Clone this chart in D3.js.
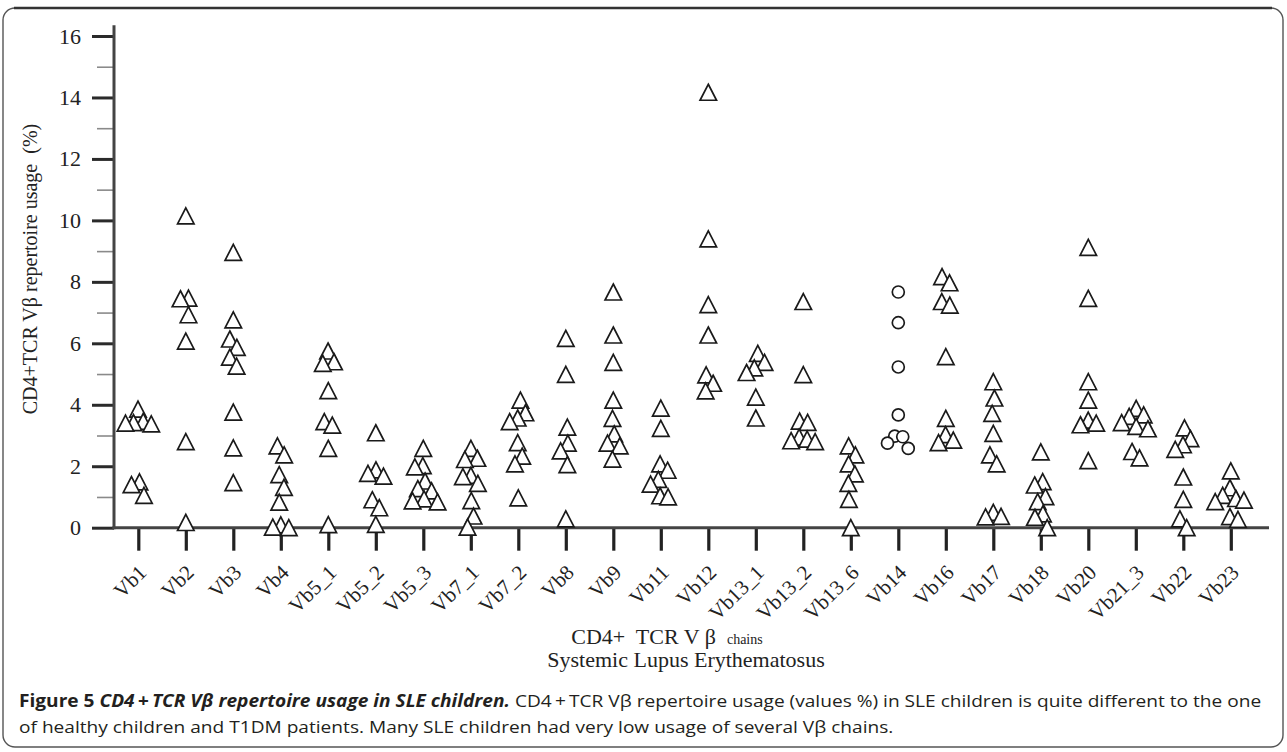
<!DOCTYPE html>
<html><head><meta charset="utf-8">
<script src="https://cdn.jsdelivr.net/npm/d3@7"></script>
<style>body{margin:0;background:#fff}svg{display:block}</style>
</head><body>
<svg id="chart" width="1287" height="752"></svg>
<script>
// ---------- data ----------
const categories = ["Vb1","Vb2","Vb3","Vb4","Vb5_1","Vb5_2","Vb5_3","Vb7_1","Vb7_2","Vb8","Vb9","Vb11",
  "Vb12","Vb13_1","Vb13_2","Vb13_6","Vb14","Vb16","Vb17","Vb18","Vb20","Vb21_3","Vb22","Vb23"];
const vb1    = [3.86, 3.46, 3.42, 3.40, 3.38, 1.49, 1.40, 1.05];
const vb2    = [10.15, 7.47, 7.45, 6.93, 6.07, 2.80, 0.17];
const vb3    = [8.96, 6.76, 6.14, 5.87, 5.55, 5.26, 3.76, 2.60, 1.47];
const vb4    = [2.66, 2.37, 1.73, 1.31, 0.83, 0.09, 0.02, 0.00];
const vb5_1  = [5.75, 5.40, 5.35, 4.46, 3.45, 3.34, 2.58, 0.10];
const vb5_2  = [3.09, 1.88, 1.77, 1.68, 0.91, 0.65, 0.11];
const vb5_3  = [2.58, 2.02, 1.98, 1.52, 1.27, 1.20, 0.94, 0.87, 0.84];
const vb7_1  = [2.58, 2.26, 2.22, 1.70, 1.66, 1.44, 0.88, 0.38, 0.02];
const vb7_2  = [4.15, 3.74, 3.57, 3.45, 2.77, 2.33, 2.08, 0.97];
const vb8    = [6.16, 4.99, 3.27, 2.75, 2.50, 2.05, 0.29];
const vb9    = [7.67, 6.27, 5.38, 4.15, 3.56, 3.05, 2.75, 2.66, 2.23];
const vb11   = [3.89, 3.23, 2.08, 1.87, 1.57, 1.42, 1.04, 1.00];
const vb12   = [14.17, 9.40, 7.26, 6.27, 4.97, 4.70, 4.45];
const vb13_1 = [5.67, 5.38, 5.20, 5.05, 4.25, 3.57];
const vb13_2 = [7.36, 4.98, 3.47, 3.43, 2.95, 2.88, 2.83, 2.80];
const vb13_6 = [2.66, 2.37, 2.08, 1.75, 1.44, 0.92, 0.00];
const vb14   = [7.67, 6.67, 5.23, 3.67, 2.98, 2.96, 2.75, 2.58];
const vb16   = [8.17, 7.97, 7.36, 7.24, 5.57, 3.56, 3.03, 2.85, 2.77];
const vb17   = [4.75, 4.22, 3.72, 3.07, 2.37, 2.08, 0.50, 0.37, 0.35];
const vb18   = [2.47, 1.50, 1.39, 1.01, 0.85, 0.45, 0.34, 0.00];
const vb20   = [9.12, 7.46, 4.75, 4.15, 3.50, 3.40, 3.35, 2.18];
const vb21_3 = [3.88, 3.67, 3.62, 3.42, 3.30, 3.22, 2.48, 2.27];
const vb22   = [3.25, 2.90, 2.70, 2.55, 1.65, 0.92, 0.29, 0.00];
const vb23   = [1.85, 1.30, 1.05, 0.95, 0.90, 0.85, 0.36, 0.27];
const seriesValues = [vb1, vb2, vb3, vb4, vb5_1, vb5_2, vb5_3, vb7_1, vb7_2, vb8, vb9, vb11,
  vb12, vb13_1, vb13_2, vb13_6, vb14, vb16, vb17, vb18, vb20, vb21_3, vb22, vb23];
const circleCategories = ["Vb14"];
const yMajorTicks = [0, 2, 4, 6, 8, 10, 12, 14, 16];
const yMinorTicks = [1, 3, 5, 7, 9, 11, 13, 15];
const yTitle = "CD4+TCR V\u03b2 repertoire usage \u00a0(%)";
const xTitleMain = "CD4+\u00a0 TCR V \u03b2 \u00a0";
const xTitleSmall = "chains";
const xSubtitle = "Systemic Lupus Erythematosus";
const captionBold = "Figure 5 ";
const captionBoldItalic = "CD4\u2009+\u2009TCR V\u03b2 repertoire usage in SLE children.";
const captionLine1 = " CD4\u2009+\u2009TCR V\u03b2 repertoire usage (values %) in SLE children is quite different to the one";
const captionLine2 = "of healthy children and T1DM patients. Many SLE children had very low usage of several V\u03b2 chains.";

// ---------- drawing ----------
const svg = d3.select("#chart");
const serif = "'Liberation Serif','Times New Roman',serif";
const ink = "#222";

// frame
svg.append("rect").attr("x", 3).attr("y", 8).attr("width", 1280).attr("height", 739)
  .attr("rx", 12).attr("fill", "none").attr("stroke", "#555").attr("stroke-width", 1.4);
svg.append("line").attr("x1", 14).attr("x2", 1272).attr("y1", 8).attr("y2", 8)
  .attr("stroke", "#333").attr("stroke-width", 2.4);

const x = d3.scalePoint().domain(categories).range([138.3, 1230.8]);
const y = d3.scaleLinear().domain([0, 16]).range([527.7, 36]);
const axisX = 114;

const g = svg.append("g");

// minor y ticks
g.append("g").attr("transform", `translate(${axisX},0)`)
  .call(d3.axisLeft(y).tickValues(yMinorTicks).tickSize(17).tickFormat(""))
  .call(s => s.select(".domain").remove())
  .call(s => s.selectAll("line").attr("stroke", "#8a8a8a").attr("stroke-width", 1.6));
// major y ticks
g.append("g").attr("transform", `translate(${axisX},0)`)
  .call(d3.axisLeft(y).tickValues(yMajorTicks).tickSize(22).tickPadding(11).tickFormat(d3.format("d")))
  .call(s => s.select(".domain").remove())
  .call(s => s.selectAll("line").attr("stroke", "#2a2a2a").attr("stroke-width", 3))
  .call(s => s.selectAll("text").attr("font-family", serif).attr("font-size", 22).attr("fill", ink));

// x ticks + labels
const gx = g.append("g").attr("transform", `translate(0,${y(0)})`)
  .call(d3.axisBottom(x).tickSize(23).tickFormat(""))
  .call(s => s.select(".domain").remove())
  .call(s => s.selectAll("line").attr("stroke", "#222").attr("stroke-width", 3.2));
gx.selectAll(".tick").append("text")
  .attr("text-anchor", "end")
  .attr("transform", "translate(9,46) rotate(-45)")
  .attr("font-family", serif).attr("font-size", 21).attr("fill", ink)
  .text(d => d);

// axis lines
g.append("line").attr("x1", axisX).attr("x2", axisX).attr("y1", y(16.35)).attr("y2", y(0) + 1.5)
  .attr("stroke", "#444").attr("stroke-width", 3);
g.append("line").attr("x1", axisX - 1.5).attr("x2", 1269).attr("y1", y(0)).attr("y2", y(0))
  .attr("stroke", "#444").attr("stroke-width", 3);

// points: swarm offsets (elliptical spacing), each touching group recentred
function swarm(vals, rx, ry) {
  const pts = vals.map(v => ({ v, py: y(v), dx: 0 }));
  const order = pts.slice().sort((a, b) => b.v - a.v);
  const placed = [];
  const clear = (q, dx, py) => ((q.dx - dx) / rx) ** 2 + ((q.py - py) / ry) ** 2 >= 1;
  order.forEach((p, k) => {
    for (let s = 0; s <= 40; s += 0.25) {
      const cands = s === 0 ? [0] : (k % 2 ? [s, -s] : [-s, s]);
      const ok = cands.find(dx => placed.every(q => clear(q, dx, p.py)));
      if (ok !== undefined) { p.dx = ok; break; }
    }
    placed.push(p);
  });
  // recentre chains of points closer than ry vertically
  let group = [];
  const flush = () => {
    if (group.length > 1) {
      const m = d3.mean(group, q => q.dx);
      group.forEach(q => q.dx -= m);
    }
    group = [];
  };
  order.forEach((p, k) => {
    if (k > 0 && Math.abs(p.py - order[k - 1].py) >= ry) flush();
    group.push(p);
  });
  flush();
  return pts;
}
const triangle = {
  draw(ctx, size) {
    const w = Math.sqrt(size), h = w * 0.97;
    ctx.moveTo(0, -h / 2); ctx.lineTo(w / 2, h / 2); ctx.lineTo(-w / 2, h / 2); ctx.closePath();
  }
};
const points = [];
categories.forEach((c, i) => {
  swarm(seriesValues[i], 8, 16).forEach(p => points.push({ cat: c, v: p.v, dx: p.dx }));
});
g.append("g").selectAll("path").data(points).join("path")
  .attr("transform", d => `translate(${x(d.cat) + d.dx},${y(d.v)})`)
  .attr("d", d => circleCategories.includes(d.cat)
      ? d3.symbol(d3.symbolCircle, Math.PI * 36)()
      : d3.symbol(triangle, 16.5 * 16.5)())
  .attr("fill", "#fff").attr("stroke", "#1a1a1a").attr("stroke-width", 1.7);

// y title
svg.append("text").attr("transform", "translate(37,269) rotate(-90)")
  .attr("text-anchor", "middle").attr("font-family", serif).attr("font-size", 20).attr("fill", ink)
  .text(yTitle);

// x titles
const xt = svg.append("text").attr("x", 667).attr("y", 644).attr("text-anchor", "middle")
  .attr("font-family", serif).attr("font-size", 22).attr("fill", ink);
xt.append("tspan").text(xTitleMain);
xt.append("tspan").attr("font-size", 14).text(xTitleSmall);
svg.append("text").attr("x", 686).attr("y", 667).attr("text-anchor", "middle")
  .attr("font-family", serif).attr("font-size", 22).attr("fill", ink).text(xSubtitle);

// caption
const capFont = "'Liberation Sans Narrow','Arial Narrow','Open Sans',sans-serif";
const c1 = svg.append("g");
const t1 = c1.append("text").attr("font-family", capFont).attr("font-size", 17).attr("fill", "#231f20");
t1.append("tspan").attr("font-weight", "bold").text(captionBold);
t1.append("tspan").attr("font-weight", "bold").attr("font-style", "italic").text(captionBoldItalic);
t1.append("tspan").text(captionLine1);
const c2 = svg.append("g");
const t2 = c2.append("text").attr("font-family", capFont).attr("font-size", 17).attr("fill", "#231f20")
  .text(captionLine2);
const w1 = t1.node().getComputedTextLength();
const sx = 1243 / w1;
c1.attr("transform", `translate(19,706.5) scale(${sx},1)`);
c2.attr("transform", `translate(19,732.5) scale(${sx},1)`);
</script>
</body></html>
